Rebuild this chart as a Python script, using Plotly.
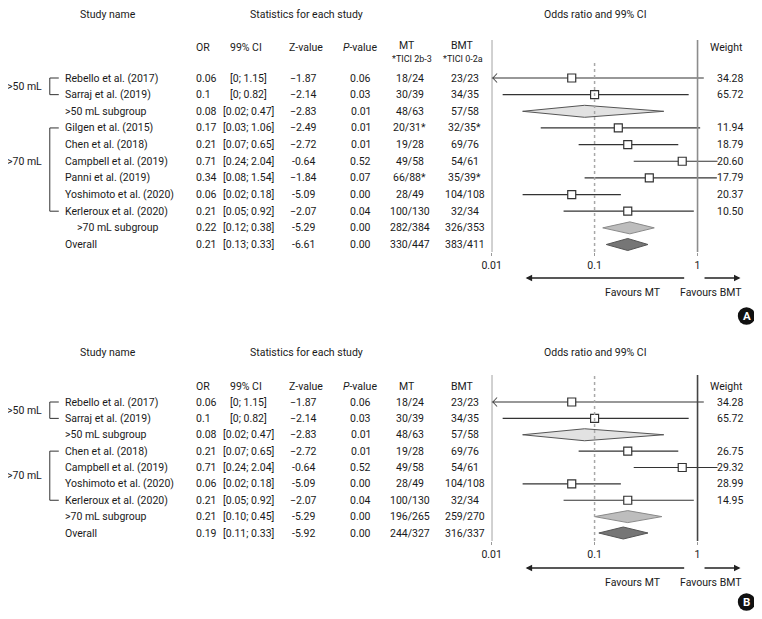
import plotly.graph_objects as go

# page body has an 8px margin: the figure is sized to fit inside it; the
# px()/py() helpers map reference-picture pixels onto figure paper coordinates
OX, OY = 8, 8
W, H = 746, 603
SX, BX = 0.987, 9.3   # empirical horizontal calibration of the screenshot
FONT = "Roboto, Arial, sans-serif"
FS = 10.5
TXT = "#1a1a1a"

# ---------------- Panel A data ----------------
a_names = ["Rebello et al. (2017)", "Sarraj et al. (2019)", ">50 mL subgroup",
           "Gilgen et al. (2015)", "Chen et al. (2018)", "Campbell et al. (2019)",
           "Panni et al. (2019)", "Yoshimoto et al. (2020)", "Kerleroux et al. (2020)",
           ">70 mL subgroup", "Overall"]
a_kind = ["study", "study", "sub50", "study", "study", "study", "study", "study", "study",
          "sub70", "overall"]
a_or = [0.06, 0.1, 0.08, 0.17, 0.21, 0.71, 0.34, 0.06, 0.21, 0.22, 0.21]
a_or_txt = ["0.06", "0.1", "0.08", "0.17", "0.21", "0.71", "0.34", "0.06", "0.21", "0.22", "0.21"]
a_ci_txt = ["[0; 1.15]", "[0; 0.82]", "[0.02; 0.47]", "[0.03; 1.06]", "[0.07; 0.65]",
            "[0.24; 2.04]", "[0.08; 1.54]", "[0.02; 0.18]", "[0.05; 0.92]", "[0.12; 0.38]",
            "[0.13; 0.33]"]
a_lo = [0.0, 0.0128, 0.02, 0.03, 0.07, 0.24, 0.08, 0.02, 0.05, 0.12, 0.13]
a_hi = [1.15, 0.82, 0.47, 1.06, 0.65, 2.04, 1.54, 0.18, 0.92, 0.38, 0.33]
a_z = ["\u22121.87", "\u22122.14", "\u22122.83", "\u22122.49", "\u22122.72", "-0.64",
       "\u22121.84", "-5.09", "\u22122.07", "-5.29", "-6.61"]
a_p = ["0.06", "0.03", "0.01", "0.01", "0.01", "0.52", "0.07", "0.00", "0.04", "0.00", "0.00"]
a_mt = ["18/24", "30/39", "48/63", "20/31*", "19/28", "49/58", "66/88*", "28/49", "100/130",
        "282/384", "330/447"]
a_bmt = ["23/23", "34/35", "57/58", "32/35*", "69/76", "54/61", "35/39*", "104/108", "32/34",
         "326/353", "383/411"]
a_w = ["34.28", "65.72", "", "11.94", "18.79", "20.60", "17.79", "20.37", "10.50", "", ""]

# ---------------- Panel B data ----------------
b_names = ["Rebello et al. (2017)", "Sarraj et al. (2019)", ">50 mL subgroup",
           "Chen et al. (2018)", "Campbell et al. (2019)", "Yoshimoto et al. (2020)",
           "Kerleroux et al. (2020)", ">70 mL subgroup", "Overall"]
b_kind = ["study", "study", "sub50", "study", "study", "study", "study", "sub70", "overall"]
b_or = [0.06, 0.1, 0.08, 0.21, 0.71, 0.06, 0.21, 0.21, 0.19]
b_or_txt = ["0.06", "0.1", "0.08", "0.21", "0.71", "0.06", "0.21", "0.21", "0.19"]
b_ci_txt = ["[0; 1.15]", "[0; 0.82]", "[0.02; 0.47]", "[0.07; 0.65]", "[0.24; 2.04]",
            "[0.02; 0.18]", "[0.05; 0.92]", "[0.10; 0.45]", "[0.11; 0.33]"]
b_lo = [0.0, 0.0128, 0.02, 0.07, 0.24, 0.02, 0.05, 0.10, 0.11]
b_hi = [1.15, 0.82, 0.47, 0.65, 2.04, 0.18, 0.92, 0.45, 0.33]
b_z = ["\u22121.87", "\u22122.14", "\u22122.83", "\u22122.72", "-0.64", "-5.09", "\u22122.07",
       "-5.29", "-5.92"]
b_p = ["0.06", "0.03", "0.01", "0.01", "0.52", "0.00", "0.04", "0.00", "0.00"]
b_mt = ["18/24", "30/39", "48/63", "19/28", "49/58", "28/49", "100/130", "196/265", "244/327"]
b_bmt = ["23/23", "34/35", "57/58", "69/76", "54/61", "104/108", "32/34", "259/270", "316/337"]
b_w = ["34.28", "65.72", "", "26.75", "29.32", "28.99", "14.95", "", ""]

tick_vals = [0.01, 0.1, 1]
tick_text = ["0.01", "0.1", "1"]

XMIN = 0.01
LOG_RANGE = [-2, 0.194]


def px(x):
    return ((x - BX) / SX - OX) / W


def py(y):
    return 1 - (y - OY) / H


X_DOMAIN = [px(491), px(717)]

fig = go.Figure()
annotations = []
shapes = []


def text(t, x, y, anchor="center", size=FS, color=TXT, bold=False):
    if bold:
        t = "<b>" + t + "</b>"
    annotations.append(dict(text=t, x=px(x), y=py(y), xref="paper", yref="paper",
                            xanchor=anchor, yanchor="middle", showarrow=False,
                            borderpad=0,
                            font=dict(family=FONT, size=size, color=color)))


DIAMOND = {"sub50": ("#e2e2e2", "#555555"), "sub70": ("#bdbdbd", "#8a8a8a"),
           "overall": ("#767676", "#555555")}


def panel(names, kind, orv, or_txt, ci_txt, lo, hi, z, p, mt, bmt, w,
          xa, ya, y0, step, top, bottom, title_y, head_y, tici, dash_top,
          sub70_indent, grp, badge, badge_y, arrow_y, fav_y, one_col):
    row_px = [y0 + step * i for i in range(len(names))]
    n = len(names)
    yd = [py(bottom), py(top)]
    yr = [(bottom - y0) / step, (top - y0) / step]
    xkey = "xaxis" if xa == "x" else "xaxis" + xa[1:]
    ykey = "yaxis" if ya == "y" else "yaxis" + ya[1:]
    fig.layout[xkey] = dict(type="log", range=LOG_RANGE, domain=X_DOMAIN, anchor=ya,
                            showgrid=False, zeroline=False, showline=False,
                            tickvals=tick_vals, ticktext=tick_text, ticks="outside",
                            ticklen=3, tickcolor="#999999",
                            tickfont=dict(family=FONT, size=FS, color=TXT))
    fig.layout[ykey] = dict(domain=yd, range=yr, anchor=xa, visible=False)

    shapes.append(dict(type="line", xref=xa, yref=ya + " domain", x0=0.01, x1=0.01,
                       y0=0, y1=1, line=dict(color="#8c8c8c", width=1.6)))
    shapes.append(dict(type="line", xref=xa, yref=ya + " domain", x0=1, x1=1,
                       y0=0, y1=1, line=dict(color=one_col, width=1.6)))
    shapes.append(dict(type="line", xref=xa, yref=ya + " domain", x0=0.1, x1=0.1,
                       y0=0, y1=(bottom - dash_top) / (bottom - top),
                       line=dict(color="#a8a8a8", width=1.5, dash="dot")))

    lx, ly, sx, sy = [], [], [], []
    for i in range(n):
        if kind[i] == "study":
            l = max(lo[i], XMIN)
            lx += [l, hi[i], None]
            ly += [i, i, None]
            sx.append(orv[i])
            sy.append(i)
            if lo[i] <= 0:
                # open chevron marking a CI truncated at the axis minimum
                hh = 4.5 / step
                fig.add_trace(go.Scatter(x=[XMIN * 1.13, XMIN * 1.03, XMIN * 1.13],
                                         y=[i - hh, i, i + hh], xaxis=xa, yaxis=ya,
                                         mode="lines", cliponaxis=False,
                                         line=dict(color="#555555", width=1.1),
                                         hoverinfo="skip"))
        else:
            fc, lc = DIAMOND[kind[i]]
            h = 6.0 / step
            fig.add_trace(go.Scatter(x=[lo[i], orv[i], hi[i], orv[i], lo[i]],
                                     y=[i, i - h, i, i + h, i], xaxis=xa, yaxis=ya,
                                     mode="lines", fill="toself", fillcolor=fc,
                                     line=dict(color=lc, width=1), hoverinfo="skip"))
    fig.add_trace(go.Scatter(x=lx, y=ly, xaxis=xa, yaxis=ya, mode="lines",
                             line=dict(color="#333333", width=1.2), hoverinfo="skip"))
    fig.add_trace(go.Scatter(x=sx, y=sy, xaxis=xa, yaxis=ya, mode="markers",
                             marker=dict(symbol="square", size=8, color="white",
                                         line=dict(color="#333333", width=1.2)),
                             hoverinfo="skip"))

    text("Study name", 107, title_y)
    text("Statistics for each study", 306, title_y)
    text("Odds ratio and 99% CI", 595, title_y)
    text("OR", 194, head_y, "left")
    text("99% CI", 245, head_y)
    text("Z-value", 305, head_y)
    text("<i>P</i>-value", 359, head_y)
    mt_y = head_y - 1.5 if tici else head_y
    text("MT", 406, mt_y)
    text("BMT", 462, mt_y)
    text("Weight", 743, head_y, "right")
    if tici:
        text("*TICI 2b-3", 411, head_y + 11.5, size=9)
        text("*TICI 0-2a", 462, head_y + 11.5, size=9)

    for i in range(n):
        y = row_px[i]
        nx = sub70_indent if kind[i] == "sub70" else 63
        text(names[i], nx, y, "left")
        text(or_txt[i], 194, y, "left")
        text(ci_txt[i], 248, y)
        text(z[i], 303, y)
        text(p[i], 360, y)
        text(mt[i], 409, y)
        text(bmt[i], 464, y)
        if w[i]:
            text(w[i], 743, y, "right")

    for label, r0, r1, lab_row in grp:
        ya0, ya1 = row_px[r0], row_px[r1]
        for (x0, y0_, x1, y1_) in [(49, ya0, 49, ya1), (49, ya0, 58, ya0), (49, ya1, 58, ya1)]:
            shapes.append(dict(type="line", xref="paper", yref="paper",
                               x0=px(x0), x1=px(x1), y0=py(y0_), y1=py(y1_),
                               line=dict(color="#333333", width=1)))
        text(label, 24, y0 + step * lab_row)

    L0, L1, R0, R1 = px(525), px(683), px(703), px(740)
    annotations.append(dict(text="", x=L0, y=py(arrow_y), xref="paper", yref="paper",
                            ax=(L1 - L0) * W, ay=0, showarrow=True, arrowhead=2,
                            arrowsize=1, arrowwidth=1.3, arrowcolor="#222222"))
    annotations.append(dict(text="", x=R1, y=py(arrow_y), xref="paper", yref="paper",
                            ax=(R0 - R1) * W, ay=0, showarrow=True, arrowhead=2,
                            arrowsize=1, arrowwidth=1.3, arrowcolor="#222222"))
    text("Favours MT", 632, fav_y)
    text("Favours BMT", 710, fav_y)

    shapes.append(dict(type="circle", xref="paper", yref="paper",
                       x0=px(746 - 8.7), x1=px(746 + 8.7), y0=py(badge_y + 8.7),
                       y1=py(badge_y - 8.7), fillcolor="#111111", line=dict(width=0)))
    text(badge, 746, badge_y, size=11.5, color="white", bold=True)


panel(a_names, a_kind, a_or, a_or_txt, a_ci_txt, a_lo, a_hi, a_z, a_p, a_mt, a_bmt, a_w,
      "x", "y", 78, 16.65, 40, 252, 15, 47, True, 62, 75,
      [(">50 mL", 0, 1, 0.5), (">70 mL", 3, 8, 5.0)], "A", 316, 278, 292, "#8c8c8c")

panel(b_names, b_kind, b_or, b_or_txt, b_ci_txt, b_lo, b_hi, b_z, b_p, b_mt, b_bmt, b_w,
      "x2", "y2", 402, 16.375, 375, 541, 352, 386, False, 375, 63,
      [(">50 mL", 0, 1, 0.5), (">70 mL", 3, 6, 4.5)], "B", 602, 568, 582, "#444444")

fig.update_layout(width=W, height=H, autosize=False,
                  margin=dict(l=0, r=0, t=0, b=0),
                  paper_bgcolor="white", plot_bgcolor="white",
                  showlegend=False, annotations=annotations, shapes=shapes,
                  font=dict(family=FONT, size=FS, color=TXT))

fig.write_html("out.html")
